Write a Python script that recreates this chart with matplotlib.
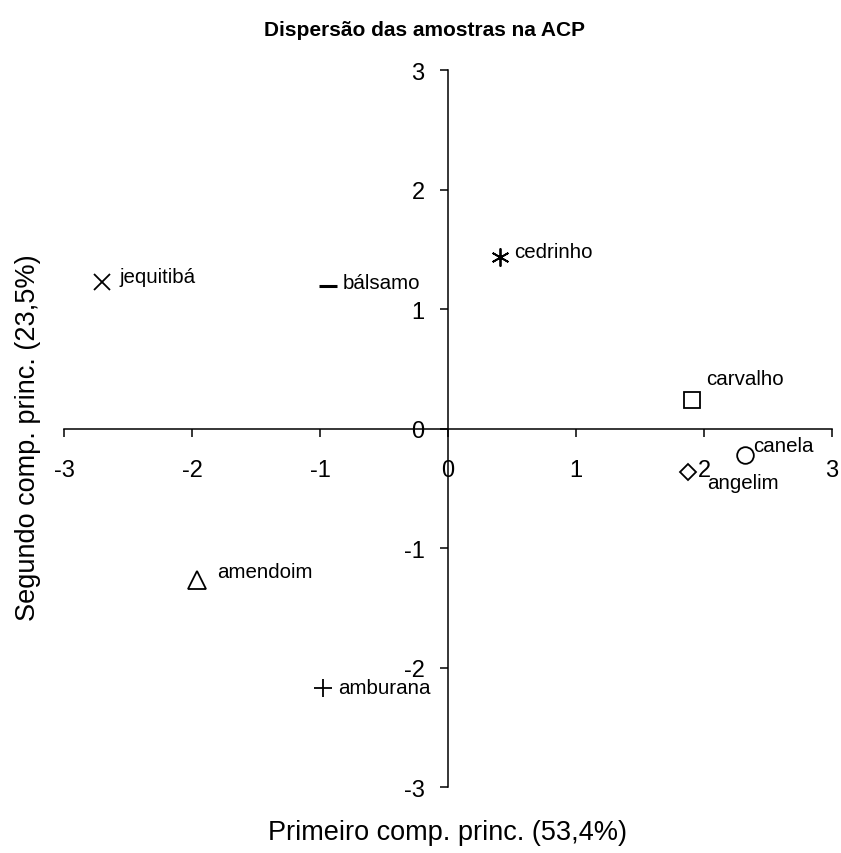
import matplotlib
matplotlib.use("Agg")
import matplotlib.pyplot as plt

plt.rcParams['font.family'] = ['Liberation Sans', 'DejaVu Sans']

# scores on the first two principal components
amostras = ["jequitibá", "bálsamo", "cedrinho", "carvalho",
            "canela", "angelim", "amendoim", "amburana"]
pc1 = [-2.70, -0.94, 0.41, 1.91, 2.32, 1.875, -1.96, -0.98]
pc2 = [1.23, 1.20, 1.44, 0.24, -0.22, -0.36, -1.26, -2.17]

ticks = [-3, -2, -1, 0, 1, 2, 3]
titulo = "Dispersão das amostras na ACP"
rotulo_x = "Primeiro comp. princ. (53,4%)"
rotulo_y = "Segundo comp. princ. (23,5%)"

# marker style per sample and label offset (points) from the marker
estilos = {
    "jequitibá": dict(marker="x", ms=12, mew=1.3),
    "bálsamo": dict(marker="_", ms=13, mew=2.2),
    "cedrinho": dict(marker=(6, 2, 0), ms=13, mew=1.3),
    "carvalho": dict(marker="s", ms=11, mew=1.3),
    "canela": dict(marker="o", ms=12, mew=1.3),
    "angelim": dict(marker="D", ms=8.5, mew=1.3),
    "amendoim": dict(marker="^", ms=13, mew=1.3),
    "amburana": dict(marker="+", ms=13, mew=1.3),
}
desloc = {
    "jequitibá": (12, 0), "bálsamo": (11, -2), "cedrinho": (10, 0),
    "carvalho": (9.5, 12), "canela": (6, 3), "angelim": (13.5, -11.5),
    "amendoim": (14.5, 2), "amburana": (11.5, -3.5),
}

fig = plt.figure(figsize=(8.41, 8.54), dpi=100)
ax = fig.add_axes([0.0761, 0.0767, 0.9132, 0.8396])

for nome, x, y in zip(amostras, pc1, pc2):
    st = estilos[nome]
    ax.plot(x, y, linestyle="none", marker=st["marker"], markersize=st["ms"],
            markeredgewidth=st["mew"], markerfacecolor="none",
            markeredgecolor="black", color="black")
    ax.annotate(nome, (x, y), xytext=desloc[nome], textcoords="offset points",
                ha="left", va="baseline", fontsize=14.8)

ax.set_xlim(-3, 3)
ax.set_ylim(-3, 3)
ax.spines["left"].set_position(("data", 0))
ax.spines["bottom"].set_position(("data", 0))
ax.spines["top"].set_visible(False)
ax.spines["right"].set_visible(False)
for s in ("left", "bottom"):
    ax.spines[s].set_linewidth(1.1)
ax.set_xticks(ticks)
ax.set_yticks(ticks)
ax.set_xticklabels([str(t) for t in ticks])
ax.set_yticklabels([str(t) for t in ticks])
ax.tick_params(axis="x", direction="out", length=5.8, width=1.1, pad=15.5, labelsize=17)
ax.tick_params(axis="y", direction="out", length=5.8, width=1.1, pad=11, labelsize=17)
ax.patch.set_visible(False)

fig.text(424 / 841, 1 - 31 / 854, titulo, ha="center", va="center",
         fontsize=15, fontweight="bold")
fig.text(448 / 841, 1 - 833 / 854, rotulo_x, ha="center", va="center", fontsize=19.5)
fig.text(28 / 841, 1 - 438 / 854, rotulo_y, ha="center", va="center",
         rotation=90, fontsize=19.5)

fig.savefig("out.png", dpi=100)
